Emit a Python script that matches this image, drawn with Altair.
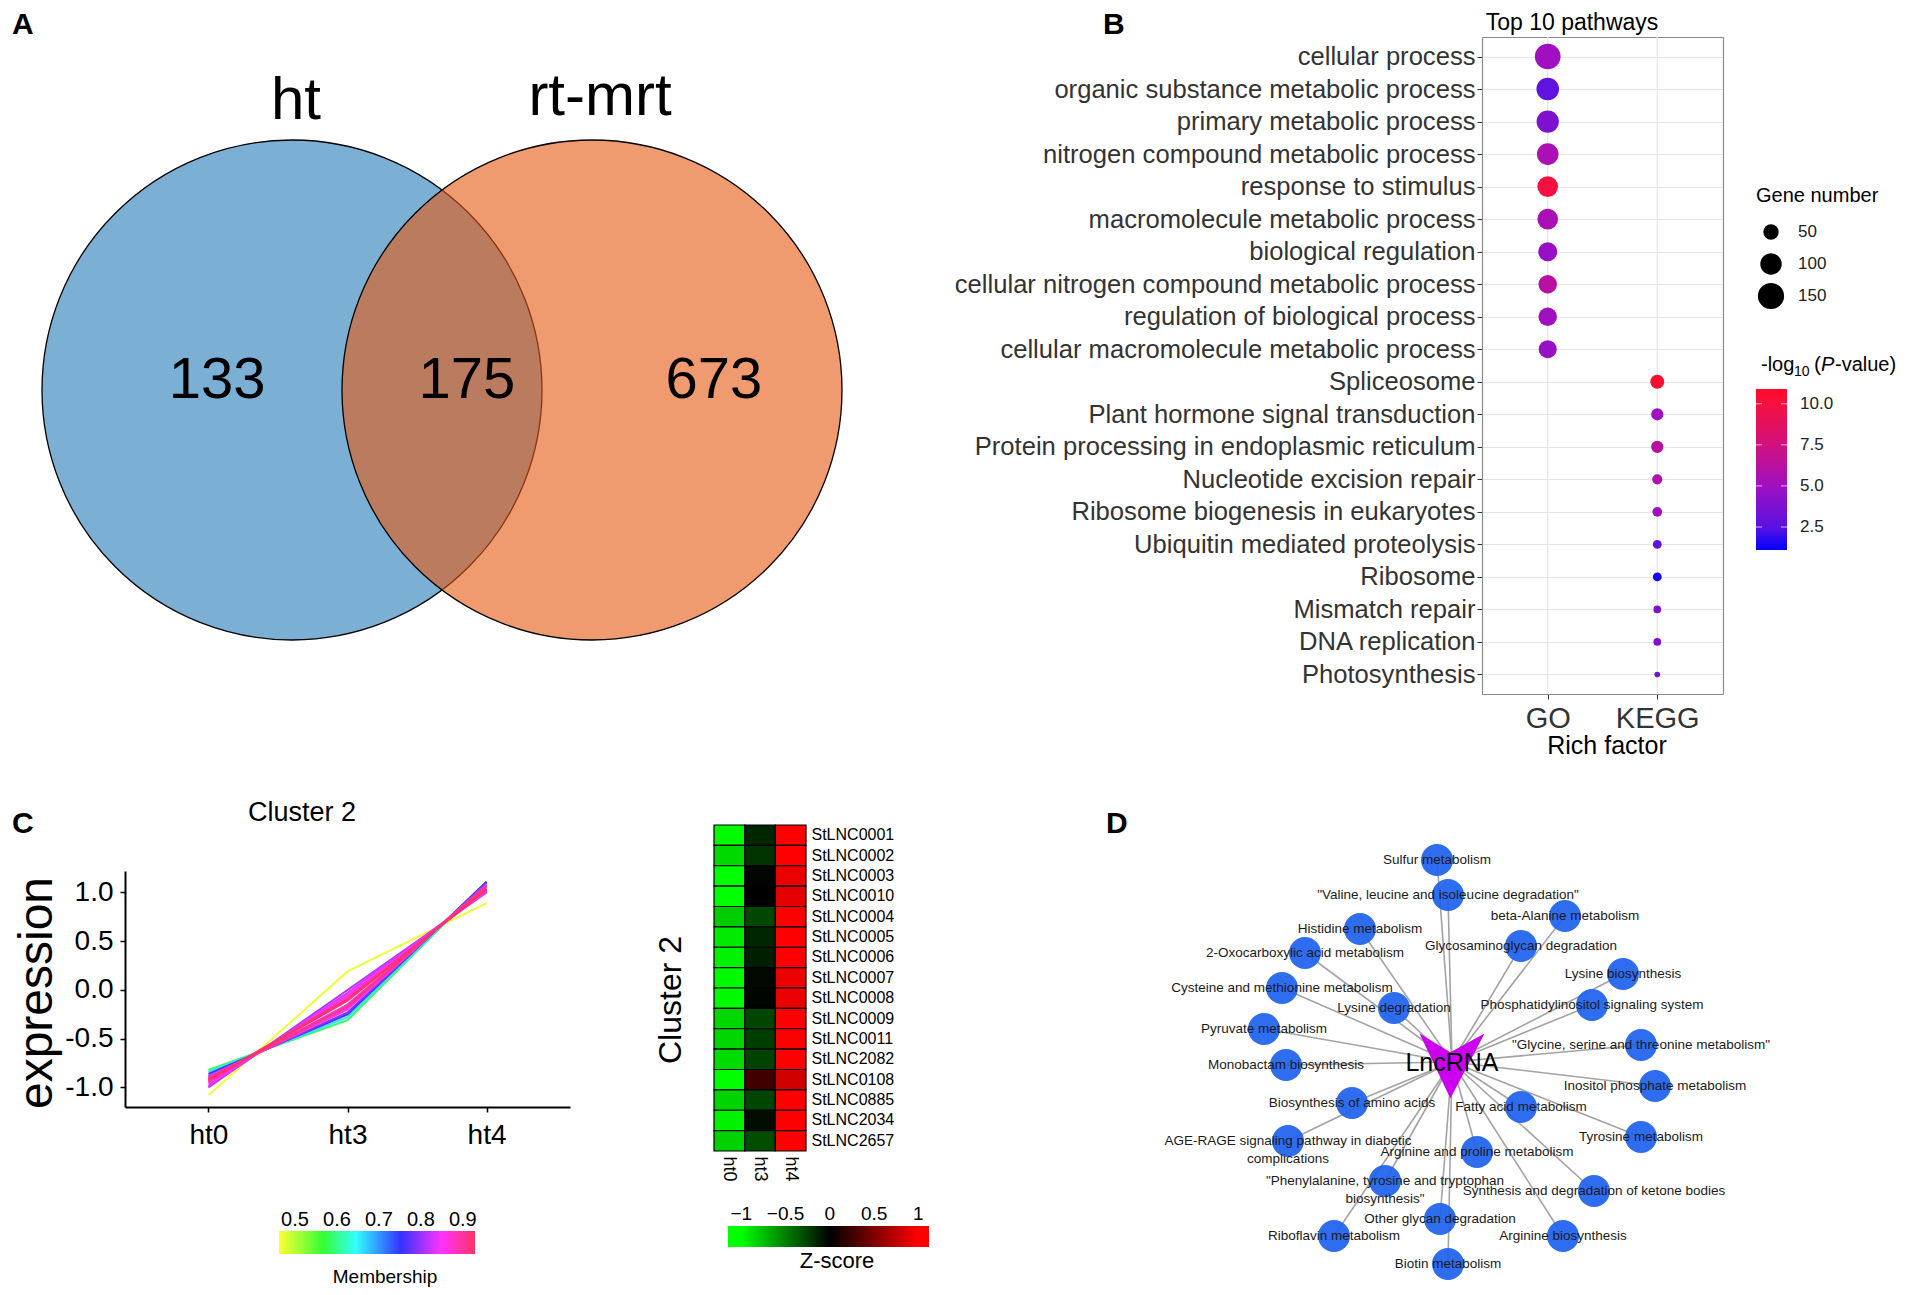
import altair as alt
import pandas as pd

W, H = 1890, 1279
M = 8


def P(v):
    return v - M


FONT = "Liberation Sans, Arial, sans-serif"

# ======================= DATA =======================
# ---- A: Venn ----
venn_sets = ["ht", "rt-mrt"]
venn_regions = ["ht only", "ht & rt-mrt", "rt-mrt only"]
venn_counts = [133, 175, 673]

# ---- B: enrichment dot plot ----
pathways = [
    "cellular process", "organic substance metabolic process", "primary metabolic process",
    "nitrogen compound metabolic process", "response to stimulus", "macromolecule metabolic process",
    "biological regulation", "cellular nitrogen compound metabolic process",
    "regulation of biological process", "cellular macromolecule metabolic process",
    "Spliceosome", "Plant hormone signal transduction", "Protein processing in endoplasmic reticulum",
    "Nucleotide excision repair", "Ribosome biogenesis in eukaryotes", "Ubiquitin mediated proteolysis",
    "Ribosome", "Mismatch repair", "DNA replication", "Photosynthesis",
]
pathway_source = ["GO"] * 10 + ["KEGG"] * 10
gene_number = [144, 111, 108, 101, 92, 92, 78, 74, 74, 70, 41, 31, 31, 21, 19, 15, 15, 11, 11, 5]
neg_log10_p = [5.0, 2.7, 3.8, 5.5, 9.9, 5.4, 4.7, 6.2, 5.0, 4.7, 10.6, 5.0, 6.2, 5.8, 5.0, 2.7, 1.4, 3.8, 3.8, 3.3]
sources = ["GO", "KEGG"]
size_legend_values = [50, 100, 150]
color_legend_values = [2.5, 5.0, 7.5, 10.0]

# ---- C: cluster profile lines ----
time_points = ["ht0", "ht3", "ht4"]
line_ht0 = [-1.08, -0.82, -0.84, -0.86, -0.88, -1.00, -0.99, -0.97, -0.90, -0.95, -0.92, -0.93, -0.91, -0.92, -0.94, -0.89]
line_ht3 = [0.19, -0.31, -0.28, -0.25, -0.23, 0.00, -0.03, -0.05, -0.20, -0.07, -0.15, -0.11, -0.17, -0.10, -0.09, -0.19]
line_ht4 = [0.89, 1.11, 1.11, 1.11, 1.10, 1.00, 1.02, 1.01, 1.08, 1.02, 1.06, 1.04, 1.07, 1.03, 1.03, 1.08]
membership = [0.47, 0.58, 0.66, 0.75, 0.79, 0.81, 0.83, 0.85, 0.86, 0.87, 0.88, 0.90, 0.91, 0.93, 0.89, 0.84]
membership_ticks = [0.5, 0.6, 0.7, 0.8, 0.9]

# ---- C: heatmap ----
lnc_ids = ["StLNC0001", "StLNC0002", "StLNC0003", "StLNC0010", "StLNC0004", "StLNC0005",
           "StLNC0006", "StLNC0007", "StLNC0008", "StLNC0009", "StLNC0011", "StLNC2082",
           "StLNC0108", "StLNC0885", "StLNC2034", "StLNC2657"]
z_ht0 = [-0.98, -0.85, -1.00, -1.00, -0.80, -0.92, -0.95, -0.98, -0.98, -0.84, -0.84, -0.86, -1.10, -0.83, -0.95, -0.82]
z_ht3 = [-0.15, -0.20, -0.02, 0.00, -0.28, -0.15, -0.12, -0.03, -0.02, -0.27, -0.24, -0.26, 0.25, -0.27, -0.05, -0.30]
z_ht4 = [1.05, 1.05, 0.92, 0.90, 1.10, 1.05, 1.05, 0.92, 0.92, 1.10, 1.08, 1.10, 0.82, 1.10, 1.00, 1.10]
z_ticks = [-1, -0.5, 0, 0.5, 1]
z_tick_labels = ["\u22121", "\u22120.5", "0", "0.5", "1"]

# ---- D: network ----
hub_name = "LncRNA"
network_pathways = [
    "Sulfur metabolism", "\"Valine, leucine and isoleucine degradation\"", "beta-Alanine metabolism",
    "Histidine metabolism", "Glycosaminoglycan degradation", "2-Oxocarboxylic acid metabolism",
    "Lysine biosynthesis", "Cysteine and methionine metabolism", "Lysine degradation",
    "Phosphatidylinositol signaling system", "Pyruvate metabolism",
    "\"Glycine, serine and threonine metabolism\"", "Monobactam biosynthesis",
    "Inositol phosphate metabolism", "Biosynthesis of amino acids", "Fatty acid metabolism",
    "AGE-RAGE signaling pathway in diabetic\ncomplications", "Tyrosine metabolism",
    "Arginine and proline metabolism", "\"Phenylalanine, tyrosine and tryptophan\nbiosynthesis\"",
    "Synthesis and degradation of ketone bodies", "Other glycan degradation",
    "Riboflavin metabolism", "Arginine biosynthesis", "Biotin metabolism",
]

# ======================= LAYOUT (positions only) =======================
venn_center_x = [0.3125, 0.6875]
venn_label_x = [0.219, 0.531, 0.84]
venn_title_x = [0.3175, 0.6975]
node_offsets = [
    (-15, -202), (-4, -167), (113, -146), (-92, -133), (69, -116), (-147, -109), (171, -88),
    (-170, -74), (-58, -54), (140, -57), (-188, -33), (189, -17), (-166, 3), (203, 24),
    (-100, 41), (69, 45), (-164, 79), (189, 75), (25, 90), (-67, 119), (142, 129),
    (-12, 157), (-118, 174), (111, 174), (-4, 202),
]


def tx(text, x, y, size, weight="normal", align="center", baseline="middle", angle=0,
       color="black", style="normal"):
    return alt.Chart(pd.DataFrame({"t": [text]})).mark_text(
        font=FONT, fontSize=size, fontWeight=weight, fontStyle=style, align=align,
        baseline=baseline, angle=angle, color=color,
    ).encode(x=alt.value(P(x)), y=alt.value(P(y)), text="t:N")


layers = []

# ======================= PANEL A =======================
R_VENN = 250
vx = alt.Scale(domain=[0, 1], range=[P(42), P(842)], zero=False, nice=False)
vy = alt.Scale(domain=[0, 1], range=[P(140), P(640)], zero=False, nice=False)
venn_df = pd.DataFrame({"set": venn_sets, "cx": venn_center_x, "cy": [0.5, 0.5]})
layers.append(
    alt.Chart(venn_df).mark_point(
        shape="circle", filled=True, size=(2 * R_VENN) ** 2, opacity=1, fillOpacity=0.6,
        stroke="black", strokeWidth=1.3, strokeOpacity=1,
    ).encode(
        x=alt.X("cx:Q", scale=vx, axis=None),
        y=alt.Y("cy:Q", scale=vy, axis=None),
        fill=alt.Fill("set:N", scale=alt.Scale(domain=venn_sets, range=["#237ab7", "#e6580f"]), legend=None),
    )
)
venn_lab = pd.DataFrame({"region": venn_regions, "n": venn_counts, "lx": venn_label_x, "ly": [0.482] * 3})
layers.append(
    alt.Chart(venn_lab).mark_text(font=FONT, fontSize=58, color="black", baseline="middle").encode(
        x=alt.X("lx:Q", scale=vx, axis=None), y=alt.Y("ly:Q", scale=vy, axis=None), text="n:Q"
    )
)
venn_tit = pd.DataFrame({"set": venn_sets, "lx": venn_title_x, "ly": [-0.078, -0.086]})
layers.append(
    alt.Chart(venn_tit).mark_text(font=FONT, fontSize=60, color="black", baseline="middle").encode(
        x=alt.X("lx:Q", scale=vx, axis=None), y=alt.Y("ly:Q", scale=vy, axis=None), text="set:N"
    )
)

# ======================= PANEL B =======================
GRID = "#e6e6e6"
FRAME = "#8a8a8a"
B_TOP, B_BOT, B_LEFT, B_RIGHT = 37, 694, 1482, 1723
xB = alt.Scale(type="point", domain=sources, range=[P(B_LEFT), P(B_RIGHT)], padding=0.6)
yB = alt.Scale(type="point", domain=pathways, range=[P(B_TOP), P(B_BOT)], padding=0.6)
p_dom = [1.1, 2.5, 5.0, 7.5, 10.0, 10.9]
p_cols = ["#0000ff", "#5a12e2", "#a010c0", "#d2107e", "#f5103e", "#ff0a2a"]
colB = alt.Scale(domain=p_dom, range=p_cols, interpolate="rgb")
sizeB = alt.Scale(domain=[5, 144], range=[32, 660], zero=False)
df_b = pd.DataFrame({"pathway": pathways, "source": pathway_source, "genes": gene_number, "logp": neg_log10_p})

# vertical grid lines at GO / KEGG
layers.append(
    alt.Chart(pd.DataFrame({"source": sources})).mark_rule(color=GRID, strokeWidth=1.2).encode(
        x=alt.X("source:N", scale=xB, axis=None), y=alt.value(P(B_TOP)), y2=alt.value(P(B_BOT))
    )
)
layers.append(
    alt.Chart(df_b).mark_circle(opacity=1).encode(
        x=alt.X("source:N", scale=xB, axis=alt.Axis(
            orient="bottom", offset=-(H - P(B_BOT)), title=None, labelFontSize=29, labelColor="#333333",
            labelPadding=5, labelAngle=0, tickColor="#333333", tickSize=5, domainColor=FRAME,
            domainWidth=1.2, grid=False, labelFont=FONT)),
        y=alt.Y("pathway:N", scale=yB, axis=alt.Axis(
            orient="left", offset=-P(B_LEFT), title=None, labelFontSize=25.6, labelColor="#333333",
            labelPadding=2, labelLimit=1000, tickColor="#333333", tickSize=5, domainColor=FRAME,
            domainWidth=1.2, grid=True, gridColor=GRID, gridWidth=1.2, labelFont=FONT)),
        color=alt.Color("logp:Q", scale=colB, legend=None),
        size=alt.Size("genes:Q", scale=sizeB, legend=None),
    )
)
layers.append(
    alt.Chart(df_b).mark_point(opacity=0).encode(
        x=alt.X("source:N", scale=xB, axis=alt.Axis(
            orient="top", offset=-P(B_TOP), labels=False, ticks=False, title=None, grid=False,
            domainColor=FRAME, domainWidth=1.2)),
        y=alt.Y("pathway:N", scale=yB, axis=alt.Axis(
            orient="right", offset=-(W - P(B_RIGHT)), labels=False, ticks=False, title=None, grid=False,
            domainColor=FRAME, domainWidth=1.2)),
    )
)
layers.append(tx("Top 10 pathways", 1572, 23, 23))
layers.append(tx("Rich factor", 1607, 746, 25))

# size legend
ySL = alt.Scale(type="point", domain=[str(v) for v in size_legend_values], range=[P(216), P(312)], padding=0.5)
sl_df = pd.DataFrame({"v": size_legend_values, "lab": [str(v) for v in size_legend_values]})
layers.append(tx("Gene number", 1756, 196, 20, align="left"))
layers.append(
    alt.Chart(sl_df).mark_circle(color="black", opacity=1).encode(
        x=alt.value(P(1771)),
        y=alt.Y("lab:N", scale=ySL, axis=None),
        size=alt.Size("v:Q", scale=sizeB, legend=None),
    )
)
layers.append(
    alt.Chart(sl_df).mark_text(font=FONT, fontSize=17, align="left", baseline="middle", color="#222222").encode(
        x=alt.value(P(1798)), y=alt.Y("lab:N", scale=ySL, axis=None), text="lab:N"
    )
)

# colour legend
yCL = alt.Scale(domain=[1.1, 10.9], range=[P(550), P(389)], zero=False, nice=False)
p_grad = alt.LinearGradient(
    gradient="linear", x1=0, y1=1, x2=0, y2=0,
    stops=[alt.GradientStop(offset=(d - p_dom[0]) / (p_dom[-1] - p_dom[0]), color=c) for d, c in zip(p_dom, p_cols)],
)
layers.append(
    alt.Chart(pd.DataFrame({"lo": [1.1], "hi": [10.9]})).mark_rect(color=p_grad).encode(
        x=alt.value(P(1756)), x2=alt.value(P(1787)),
        y=alt.Y("lo:Q", scale=yCL, axis=None), y2="hi:Q",
    )
)
cl_df = pd.DataFrame({"v": color_legend_values, "lab": [f"{v:.1f}" for v in color_legend_values]})
for xa, xb in [(1756, 1762), (1781, 1787)]:
    layers.append(
        alt.Chart(cl_df).mark_rule(color="white", strokeWidth=1, opacity=0.7).encode(
            x=alt.value(P(xa)), x2=alt.value(P(xb)), y=alt.Y("v:Q", scale=yCL, axis=None)
        )
    )
layers.append(
    alt.Chart(cl_df).mark_text(font=FONT, fontSize=17, align="left", baseline="middle", color="#222222").encode(
        x=alt.value(P(1800)), y=alt.Y("v:Q", scale=yCL, axis=None), text="lab:N"
    )
)
layers.append(tx("-log", 1761, 365, 20, align="left"))
layers.append(tx("10", 1794, 372, 14, align="left"))
layers.append(tx("(", 1814, 365, 21, align="left"))
layers.append(tx("P", 1821, 365, 20, align="left", style="italic"))
layers.append(tx("-value)", 1835, 365, 20, align="left"))

# ======================= PANEL C: lines =======================
memb_stops = [0.462, 0.567, 0.645, 0.752, 0.848, 0.929]
memb_colors = ["#ffff33", "#33ff33", "#33ffff", "#3333ff", "#ff33ff", "#ff3366"]
membS = alt.Scale(domain=memb_stops, range=memb_colors, interpolate="rgb")
xC = alt.Scale(type="point", domain=time_points, range=[P(125), P(570)], padding=0.6)
yC = alt.Scale(domain=[-1.2, 1.22], range=[P(1107), P(871)], zero=False, nice=False)

rows = []
for i in range(len(membership)):
    for t, vals in zip(time_points, [line_ht0, line_ht3, line_ht4]):
        rows.append({"id": f"L{i:02d}", "time": t, "expr": vals[i], "memb": membership[i]})
df_lines = pd.DataFrame(rows).sort_values(["memb", "id"]).reset_index(drop=True)

layers.append(
    alt.Chart(df_lines).mark_line(strokeWidth=2).encode(
        x=alt.X("time:N", scale=xC, axis=alt.Axis(
            orient="bottom", offset=-(H - P(1107)), title=None, labelFontSize=28, labelColor="black",
            labelPadding=9, labelAngle=0, tickColor="black", tickSize=5, tickWidth=1.5,
            domainColor="black", domainWidth=2, grid=False, labelFont=FONT)),
        y=alt.Y("expr:Q", scale=yC, axis=alt.Axis(
            orient="left", offset=-P(125), title=None, values=[-1, -0.5, 0, 0.5, 1],
            labelExpr="datum.value < 0 ? '-' + format(-datum.value, '.1f') : format(datum.value, '.1f')",
            labelFontSize=28, labelColor="black", labelPadding=7, tickColor="black", tickSize=5,
            tickWidth=1.5, domainColor="black", domainWidth=2, grid=False, labelFont=FONT)),
        color=alt.Color("memb:Q", scale=membS, legend=None),
        detail="id:N",
    )
)
layers.append(tx("Cluster 2", 302, 813, 27))
layers.append(tx("expression", 38, 993, 48, angle=270))

mX = alt.Scale(domain=[0.462, 0.929], range=[P(279), P(475)], zero=False, nice=False)
span = memb_stops[-1] - memb_stops[0]
memb_grad = alt.LinearGradient(
    gradient="linear", x1=0, y1=0, x2=1, y2=0,
    stops=[alt.GradientStop(offset=(s - memb_stops[0]) / span, color=c) for s, c in zip(memb_stops, memb_colors)],
)
layers.append(
    alt.Chart(pd.DataFrame({"lo": [0.462], "hi": [0.929]})).mark_rect(color=memb_grad).encode(
        x=alt.X("lo:Q", scale=mX, axis=None), x2="hi:Q", y=alt.value(P(1231)), y2=alt.value(P(1254))
    )
)
layers.append(
    alt.Chart(pd.DataFrame({"v": membership_ticks, "lab": [f"{v:.1f}" for v in membership_ticks]})).mark_text(
        font=FONT, fontSize=20, baseline="middle", color="black"
    ).encode(x=alt.X("v:Q", scale=mX, axis=None), y=alt.value(P(1220)), text="lab:N")
)
layers.append(tx("Membership", 385, 1277, 19))

# ======================= PANEL C: heatmap =======================
xH = alt.Scale(type="band", domain=time_points, range=[P(714), P(806)], paddingInner=0, paddingOuter=0)
yH = alt.Scale(type="band", domain=lnc_ids, range=[P(825), P(1151)], paddingInner=0, paddingOuter=0)
colH = alt.Scale(domain=[-1, 0, 1], range=["#00ff00", "#000000", "#ff0000"], clamp=True, interpolate="rgb")
hrows = []
for i, g in enumerate(lnc_ids):
    for t, vals in zip(time_points, [z_ht0, z_ht3, z_ht4]):
        hrows.append({"gene": g, "time": t, "z": vals[i]})
df_h = pd.DataFrame(hrows)
layers.append(
    alt.Chart(df_h).mark_rect(stroke="black", strokeWidth=1.2).encode(
        x=alt.X("time:N", scale=xH, axis=alt.Axis(
            orient="bottom", offset=-(H - P(1151)), title=None, labelAngle=90, labelFontSize=18,
            labelColor="black", labelPadding=5, ticks=False, domain=False, grid=False, labelFont=FONT)),
        y=alt.Y("gene:N", scale=yH, axis=alt.Axis(
            orient="right", offset=-(W - P(806)), title=None, labelFontSize=16, labelColor="black",
            labelPadding=5, ticks=False, domain=False, grid=False, labelFont=FONT)),
        color=alt.Color("z:Q", scale=colH, legend=None),
    )
)
layers.append(tx("Cluster 2", 671, 1000, 32, angle=270))

zX = alt.Scale(domain=[-1.15, 1.12], range=[P(728), P(929)], zero=False, nice=False)
zspan = 1.12 + 1.15
z_grad = alt.LinearGradient(
    gradient="linear", x1=0, y1=0, x2=1, y2=0,
    stops=[alt.GradientStop(offset=0, color="#00ff00"),
           alt.GradientStop(offset=(-1 + 1.15) / zspan, color="#00ff00"),
           alt.GradientStop(offset=(0 + 1.15) / zspan, color="#000000"),
           alt.GradientStop(offset=(1 + 1.15) / zspan, color="#ff0000"),
           alt.GradientStop(offset=1, color="#ff0000")],
)
layers.append(
    alt.Chart(pd.DataFrame({"lo": [-1.15], "hi": [1.12]})).mark_rect(color=z_grad).encode(
        x=alt.X("lo:Q", scale=zX, axis=None), x2="hi:Q", y=alt.value(P(1226)), y2=alt.value(P(1247))
    )
)
layers.append(
    alt.Chart(pd.DataFrame({"v": z_ticks, "lab": z_tick_labels})).mark_text(
        font=FONT, fontSize=19, baseline="middle", color="black"
    ).encode(x=alt.X("v:Q", scale=zX, axis=None), y=alt.value(P(1214)), text="lab:N")
)
layers.append(tx("Z-score", 837, 1261, 22))

# ======================= PANEL D: network =======================
HUBX, HUBY = 1452, 1062
dX = alt.Scale(domain=[-300, 300], range=[P(HUBX) - 300, P(HUBX) + 300], zero=False, nice=False)
dY = alt.Scale(domain=[-300, 300], range=[P(HUBY) - 300, P(HUBY) + 300], zero=False, nice=False)
df_nodes = pd.DataFrame({
    "name": network_pathways,
    "dx": [o[0] for o in node_offsets],
    "dy": [o[1] for o in node_offsets],
    "hx": [0] * len(node_offsets),
    "hy": [0] * len(node_offsets),
})
layers.append(
    alt.Chart(df_nodes).mark_rule(color="#a3a3a3", strokeWidth=1.6).encode(
        x=alt.X("hx:Q", scale=dX, axis=None), x2="dx:Q",
        y=alt.Y("hy:Q", scale=dY, axis=None), y2="dy:Q",
    )
)
layers.append(
    alt.Chart(df_nodes).mark_circle(size=32 ** 2, color="#1f62ef", opacity=0.93).encode(
        x=alt.X("dx:Q", scale=dX, axis=None), y=alt.Y("dy:Q", scale=dY, axis=None)
    )
)
layers.append(
    alt.Chart(pd.DataFrame({"hub": [hub_name], "hx": [0], "hy": [4]})).mark_point(
        shape="M-1,-1L-0.05,-0.42L1,-1L-0.05,1Z", size=4225, filled=True, fill="#cc00ee",
        opacity=1, strokeWidth=0,
    ).encode(x=alt.X("hx:Q", scale=dX, axis=None), y=alt.Y("hy:Q", scale=dY, axis=None))
)
layers.append(
    alt.Chart(df_nodes).mark_text(
        font=FONT, fontSize=13.5, color="#1a1a1a", baseline="middle", lineBreak="\n", lineHeight=18
    ).encode(x=alt.X("dx:Q", scale=dX, axis=None), y=alt.Y("dy:Q", scale=dY, axis=None), text="name:N")
)
layers.append(
    alt.Chart(pd.DataFrame({"hub": [hub_name], "hx": [0], "hy": [1]})).mark_text(
        font=FONT, fontSize=25, color="black", baseline="middle"
    ).encode(x=alt.X("hx:Q", scale=dX, axis=None), y=alt.Y("hy:Q", scale=dY, axis=None), text="hub:N")
)

# ======================= PANEL LETTERS =======================
layers.append(tx("A", 12, 25, 30, weight="bold", align="left"))
layers.append(tx("B", 1103, 25, 30, weight="bold", align="left"))
layers.append(tx("C", 12, 824, 30, weight="bold", align="left"))
layers.append(tx("D", 1106, 824, 30, weight="bold", align="left"))

chart = alt.layer(*layers).properties(
    width=W, height=H, padding=0, autosize=alt.AutoSizeParams(type="none")
).resolve_scale(
    x="independent", y="independent", color="independent", size="independent", fill="independent"
).configure_view(stroke=None).configure_axis(labelFont=FONT, titleFont=FONT)

chart.save("out.html", embed_options={"renderer": "svg", "actions": False})
